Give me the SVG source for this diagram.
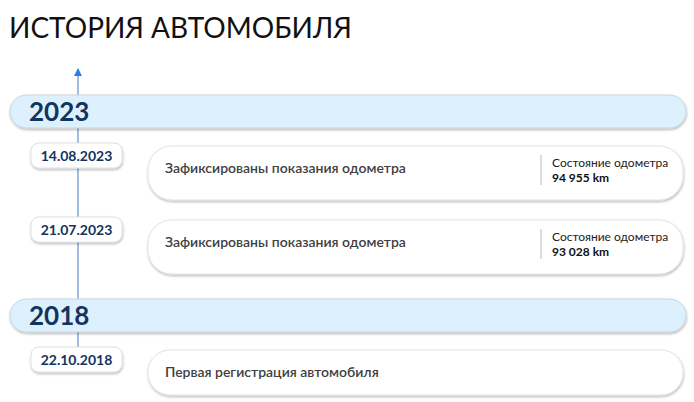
<svg xmlns="http://www.w3.org/2000/svg" width="694" height="402" viewBox="0 0 694 402">
<style>
text{font-family:Lato,"Open Sans","Liberation Sans",sans-serif}
.title{font-size:28px;fill:#111}
.year{font-size:26px;font-weight:700;fill:#12345e}
.date{font-size:14px;font-weight:700;fill:#12345e;text-anchor:middle}
.ev{font-size:14px;font-weight:600;fill:#404040}
.lbl{font-size:12px;fill:#222}
.val{font-size:12px;font-weight:700;fill:#111}
.bar{fill:#dcf1fd;stroke:#c9d4de;stroke-width:1}
.pill{fill:#fff;stroke:#dde2e8;stroke-width:1}
.card{fill:#fff;stroke:#e3e3e3;stroke-width:1}
.sep{stroke:#bbb;stroke-width:1}
</style>
<defs>
<filter id="sh" x="-5%" y="-30%" width="110%" height="170%">
<feDropShadow dx="0.5" dy="1.5" stdDeviation="1.3" flood-color="#000" flood-opacity="0.28"/>
</filter>
<marker id="arr" markerWidth="10" markerHeight="10" refX="7" refY="4.5" orient="auto" markerUnits="userSpaceOnUse">
<path d="M0,0.5 L8,4.5 L0,8.5 Z" fill="#2f7de1"/>
</marker>
</defs>
<rect width="694" height="402" fill="#fff"/>
<text class="title" x="9" y="38">ИСТОРИЯ АВТОМОБИЛЯ</text>
<g id="connectors">
<line x1="78" y1="347" x2="78" y2="69" stroke="#6f9bd2" stroke-width="1.3" marker-end="url(#arr)"/>
</g>
<g id="year-2023">
<rect class="bar" x="10" y="95" width="676" height="33" rx="16.5" filter="url(#sh)"/>
<text class="year" x="29" y="121">2023</text>
</g>
<g id="date-1">
<rect class="pill" x="31" y="143" width="91" height="25" rx="8" filter="url(#sh)"/>
<text class="date" x="76.5" y="161">14.08.2023</text>
</g>
<g id="event-1">
<rect class="card" x="148" y="146" width="535" height="54" rx="24" filter="url(#sh)"/>
<text class="ev" x="165" y="173">Зафиксированы показания одометра</text>
<line class="sep" x1="541" y1="155" x2="541" y2="185"/>
<text class="lbl" x="552" y="167">Состояние одометра</text>
<text class="val" x="552" y="182">94 955 km</text>
</g>
<g id="date-2">
<rect class="pill" x="31" y="217" width="91" height="25" rx="8" filter="url(#sh)"/>
<text class="date" x="76.5" y="235">21.07.2023</text>
</g>
<g id="event-2">
<rect class="card" x="148" y="220" width="535" height="54" rx="24" filter="url(#sh)"/>
<text class="ev" x="165" y="247">Зафиксированы показания одометра</text>
<line class="sep" x1="541" y1="229" x2="541" y2="259"/>
<text class="lbl" x="552" y="241">Состояние одометра</text>
<text class="val" x="552" y="256">93 028 km</text>
</g>
<g id="year-2018">
<rect class="bar" x="10" y="299" width="676" height="33" rx="16.5" filter="url(#sh)"/>
<text class="year" x="29" y="325">2018</text>
</g>
<g id="date-3">
<rect class="pill" x="31" y="347" width="91" height="25" rx="8" filter="url(#sh)"/>
<text class="date" x="76.5" y="365">22.10.2018</text>
</g>
<g id="event-3">
<rect class="card" x="148" y="350" width="535" height="45" rx="22" filter="url(#sh)"/>
<text class="ev" x="165" y="377">Первая регистрация автомобиля</text>
</g>
</svg>
